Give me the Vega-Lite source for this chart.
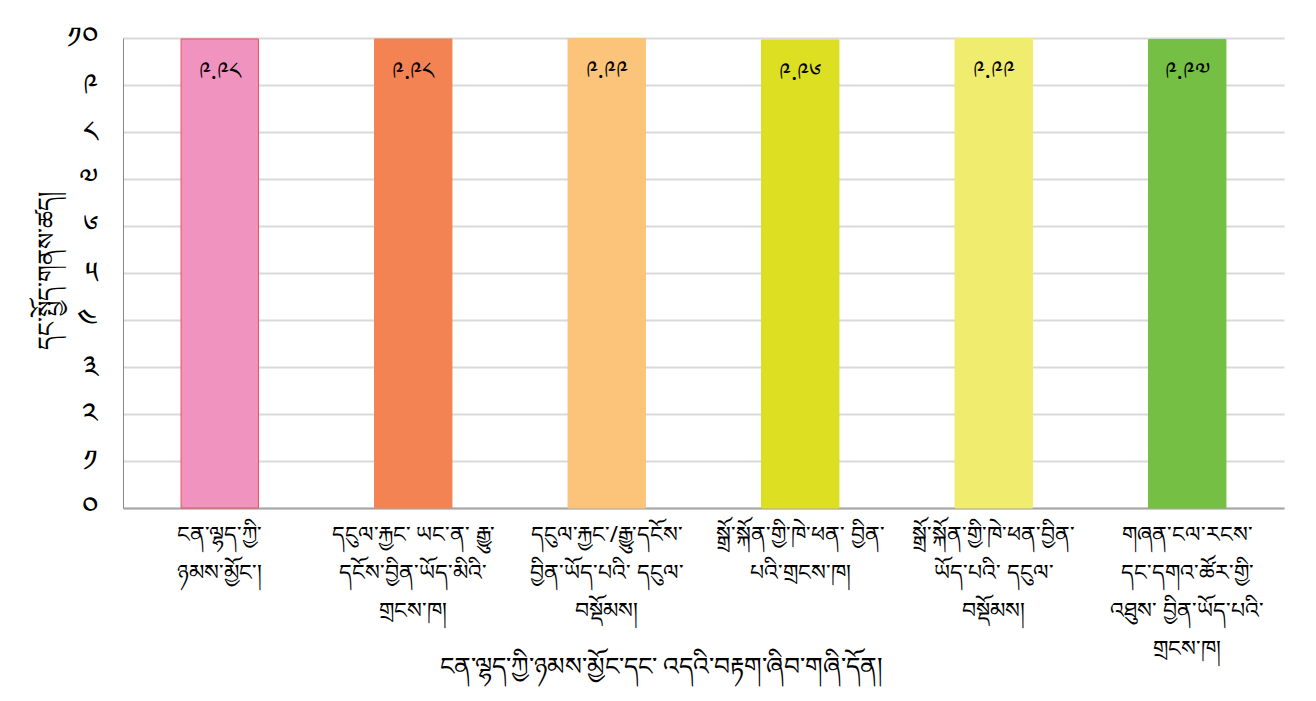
{
  "$schema": "https://vega.github.io/schema/vega-lite/v6.json",
  "width": 1161,
  "height": 470,
  "autosize": {"type": "none"},
  "padding": {"left": 123, "top": 38, "right": 32, "bottom": 193},
  "background": "white",
  "config": {
    "view": {"stroke": null},
    "font": "Noto Sans",
    "axis": {"labelFont": "Noto Sans", "titleFont": "Noto Sans"}
  },
  "data": {
    "values": [
      {"cat": "ངན་ལྷད་ཀྱི་|ཉམས་མྱོང་།", "value": 9.98, "label": "༩.༩༨", "color": "c1"},
      {"cat": "དངུལ་རྐྱང་ ཡང་ན་ རྒྱུ་|དངོས་བྱིན་ཡོད་མིའི་|གྲངས་ཁ།", "value": 9.98, "label": "༩.༩༨", "color": "c2"},
      {"cat": "དངུལ་རྐྱང་/རྒྱུ་དངོས་|བྱིན་ཡོད་པའི་ དངུལ་|བསྡོམས།", "value": 9.99, "label": "༩.༩༩", "color": "c3"},
      {"cat": "སྒྲོ་སྐོན་གྱི་ཁེ་ཕན་ བྱིན་|པའི་གྲངས་ཁ།", "value": 9.96, "label": "༩.༩༦", "color": "c4"},
      {"cat": "སྒྲོ་སྐོན་གྱི་ཁེ་ཕན་བྱིན་|ཡོད་པའི་ དངུལ་|བསྡོམས།", "value": 9.99, "label": "༩.༩༩", "color": "c5"},
      {"cat": "གཞན་ངལ་རངས་|དང་དགའ་ཚོར་གྱི་|འཐུས་ བྱིན་ཡོད་པའི་|གྲངས་ཁ།", "value": 9.97, "label": "༩.༩༧", "color": "c6"}
    ]
  },
  "encoding": {
    "x": {
      "field": "cat",
      "type": "nominal",
      "sort": null,
      "scale": {"paddingInner": 0.6, "paddingOuter": 0.3},
      "axis": {
        "title": "ངན་ལྷད་ཀྱི་ཉམས་མྱོང་དང་ འདའི་བརྟག་ཞིབ་གཞི་དོན།",
        "titleFontSize": 25,
        "titleFontWeight": "normal",
        "titleColor": "black",
        "titleX": 538,
        "titleY": 158,
        "titleAnchor": null,
        "titleAlign": "center",
        "titleBaseline": "middle",
        "labelExpr": "split(datum.label, '|')",
        "labelAngle": 0,
        "labelFontSize": 22,
        "labelLineHeight": 38,
        "labelColor": "black",
        "labelPadding": 16,
        "labelBaseline": "top",
        "labelLimit": 0,
        "ticks": false,
        "domainColor": "#a6a6a6",
        "domainWidth": 2,
        "grid": false
      }
    },
    "y": {
      "field": "value",
      "type": "quantitative",
      "scale": {"domain": [0, 10], "nice": false},
      "axis": {
        "title": "དང་སྤྱོད་གནས་ཚད།",
        "titleFontSize": 24,
        "titleFontWeight": "normal",
        "titleColor": "black",
        "titleAngle": -90,
        "titleX": -76,
        "titleY": 232,
        "titleAlign": "center",
        "titleBaseline": "middle",
        "values": [0, 1, 2, 3, 4, 5, 6, 7, 8, 9, 10],
        "labelExpr": "['༠','༡','༢','༣','༤','༥','༦','༧','༨','༩','༡༠'][datum.value]",
        "labelFontSize": 30,
        "labelColor": "black",
        "labelPadding": 26,
        "ticks": false,
        "domainColor": "#888888",
        "domainWidth": 1,
        "grid": true,
        "gridColor": "#d9d9d9",
        "gridWidth": 2
      }
    }
  },
  "layer": [
    {
      "mark": {"type": "bar"},
      "encoding": {
        "color": {
          "field": "color",
          "type": "nominal",
          "legend": null,
          "scale": {
            "domain": ["c1", "c2", "c3", "c4", "c5", "c6"],
            "range": ["#f093bf", "#f38352", "#fbc47a", "#dcdf22", "#f0ec6e", "#74bf44"]
          }
        },
        "stroke": {
          "field": "color",
          "type": "nominal",
          "legend": null,
          "scale": {
            "domain": ["c1", "c2", "c3", "c4", "c5", "c6"],
            "range": ["#e8505b", "#f38352", "#fbc47a", "#dcdf22", "#f0ec6e", "#74bf44"]
          }
        }
      }
    },
    {
      "mark": {"type": "text", "baseline": "middle", "dy": 33, "fontSize": 24, "color": "black"},
      "encoding": {"text": {"field": "label"}}
    }
  ]
}
